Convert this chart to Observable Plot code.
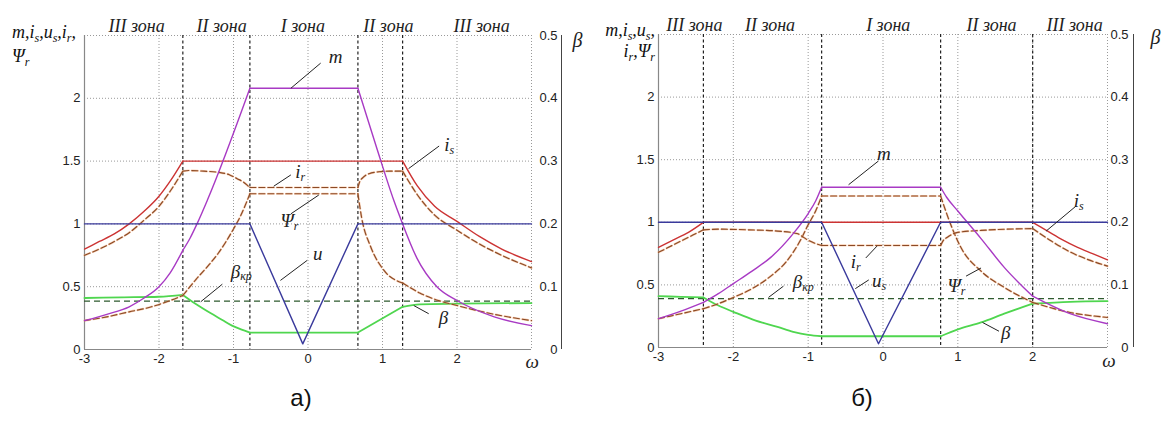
<!DOCTYPE html>
<html><head><meta charset="utf-8">
<script src="https://cdn.jsdelivr.net/npm/d3@7"></script>
<script src="https://cdn.jsdelivr.net/npm/@observablehq/plot@0.6"></script>
<style>
body{margin:0;background:#fff;}
#wrap{position:relative;width:1162px;height:432px;overflow:hidden;}
.panel{position:absolute;top:0;}
.lbl{position:absolute;font-style:italic;font-size:18px;line-height:18px;font-family:"Liberation Serif",serif;color:#111;white-space:nowrap;}
.lbl sub{font-size:12px;vertical-align:-4px;line-height:0;}
.cap{position:absolute;font-family:"Liberation Sans",Arial,sans-serif;font-size:24px;line-height:28px;color:#111;width:40px;text-align:center;}
</style></head>
<body><div id="wrap">
<div id="pa" class="panel" style="left:0"></div>
<div id="pb" class="panel" style="left:581px"></div>
<div class="lbl" style="left:12px;top:23px">m,i<sub>s</sub>,u<sub>s</sub>,i<sub>r</sub>,</div>
<div class="lbl" style="left:12px;top:47px">Ψ<sub>r</sub></div>
<div class="lbl" style="right:507px;top:21px;text-align:right">m,i<sub>s</sub>,u<sub>s</sub>,</div>
<div class="lbl" style="right:507px;top:42px;text-align:right">i<sub>r</sub>,Ψ<sub>r</sub></div>
<div class="cap" style="left:281px;top:384px">а)</div>
<div class="cap" style="left:842px;top:384px">б)</div>
</div>
<script>
// ---- ticks & categories ----
const omegaTicks = [-3, -2, -1, 0, 1, 2];
const gridOmega = [-2, -1, 0, 1, 2, 3];
const leftTicks = [0, 0.5, 1, 1.5, 2];
const gridLeft = [0.5, 1, 1.5, 2, 2.5];
const betaTicks = [0, 0.1, 0.2, 0.3, 0.4, 0.5];
const zoneNames = ["III зона", "II зона", "I зона", "II зона", "III зона"];

// ---- panel а ----
const zoneCentersA = [-2.30, -1.16, -0.07, 1.08, 2.33];
const zoneBoundsA = [-1.68, -0.78, 0.67, 1.27];
const isA = [[-3,0.80],[-2.8,0.86],[-2.6,0.92],[-2.4,1.00],[-2.2,1.10],[-2.0,1.22],[-1.85,1.34],[-1.68,1.50],[1.27,1.50],[1.47,1.30],[1.7,1.14],[2.0,1.02],[2.3,0.90],[2.6,0.80],[3.0,0.70]];
const irA = [[-3,0.75],[-2.8,0.80],[-2.6,0.86],[-2.4,0.93],[-2.2,1.03],[-2.0,1.14],[-1.85,1.26],[-1.68,1.42],[-1.6,1.425],[-1.4,1.42],[-1.2,1.41],[-1.05,1.39],[-0.95,1.36],[-0.86,1.33],[-0.8,1.30],[-0.78,1.29],[0.67,1.29],[0.69,1.33],[0.74,1.37],[0.82,1.40],[0.95,1.415],[1.1,1.42],[1.27,1.42],[1.47,1.23],[1.7,1.07],[2.0,0.95],[2.3,0.84],[2.6,0.75],[3.0,0.65]];
const psiA = [[-3,0.23],[-2.7,0.26],[-2.4,0.30],[-2.1,0.34],[-1.85,0.39],[-1.68,0.43],[-1.5,0.56],[-1.35,0.66],[-1.2,0.77],[-1.0,0.96],[-0.9,1.07],[-0.78,1.24],[0.67,1.24],[0.72,1.05],[0.84,0.82],[1.02,0.63],[1.27,0.53],[1.5,0.45],[1.75,0.39],[2.0,0.35],[2.5,0.28],[3.0,0.23]];
const mA = [[-3,0.23],[-2.7,0.28],[-2.4,0.34],[-2.2,0.41],[-2.0,0.50],[-1.85,0.61],[-1.68,0.79],[-1.58,0.89],[-1.49,1.0],[-1.35,1.19],[-0.78,2.08],[0.67,2.08],[0.93,1.59],[1.15,1.19],[1.27,1.0],[1.46,0.73],[1.73,0.50],[2.0,0.39],[2.5,0.26],[3.0,0.19]];
const uA = [[-3,1],[-0.78,1],[-0.07,0.045],[0.67,1],[3,1]];
const betaA = [[-3,0.082],[-2.5,0.083],[-2.0,0.084],[-1.68,0.087],[-1.5,0.072],[-1.31,0.058],[-1.15,0.047],[-1.02,0.038],[-0.9,0.032],[-0.78,0.027],[0.67,0.027],[1.27,0.068],[1.5,0.072],[2.0,0.073],[3.0,0.074]];
const betaKrA = 0.077;

// ---- panel б ----
const zoneCentersB = [-2.52, -1.51, 0.07, 1.45, 2.56];
const zoneBoundsB = [-2.4, -0.82, 0.77, 2.0];
const isB = [[-3,0.80],[-2.8,0.86],[-2.6,0.92],[-2.4,1.0],[2.0,1.0],[2.2,0.93],[2.4,0.86],[2.6,0.80],[2.8,0.75],[3.0,0.70]];
const irB = [[-3,0.76],[-2.8,0.82],[-2.6,0.88],[-2.4,0.94],[-2.2,0.945],[-1.8,0.94],[-1.41,0.93],[-1.15,0.91],[-1.01,0.86],[-0.9,0.83],[-0.82,0.815],[0.77,0.815],[0.8,0.85],[0.86,0.88],[1.0,0.92],[1.31,0.935],[2.0,0.95],[2.25,0.85],[2.51,0.76],[2.75,0.70],[3.0,0.65]];
const psiB = [[-3,0.23],[-2.7,0.27],[-2.4,0.31],[-2.2,0.35],[-2.0,0.40],[-1.75,0.47],[-1.5,0.57],[-1.3,0.68],[-1.1,0.86],[-1.0,0.98],[-0.9,1.09],[-0.82,1.21],[0.77,1.21],[0.9,0.99],[1.04,0.80],[1.31,0.61],[1.62,0.48],[2.0,0.36],[2.5,0.28],[3.0,0.24]];
const mB = [[-3,0.23],[-2.7,0.29],[-2.4,0.36],[-2.2,0.43],[-2.0,0.51],[-1.75,0.61],[-1.5,0.72],[-1.2,0.91],[-1.0,1.07],[-0.9,1.17],[-0.82,1.28],[0.77,1.28],[0.85,1.20],[1.0,1.09],[1.31,0.87],[1.62,0.64],[2.0,0.41],[2.5,0.27],[3.0,0.19]];
const uB = [[-3,1],[-0.82,1],[-0.06,0.03],[0.77,1],[3,1]];
const betaB = [[-3,0.082],[-2.7,0.081],[-2.4,0.080],[-2.2,0.067],[-2.0,0.057],[-1.7,0.043],[-1.41,0.033],[-1.2,0.025],[-1.0,0.020],[-0.82,0.018],[0.77,0.018],[1.0,0.029],[1.31,0.040],[1.62,0.054],[2.0,0.070],[2.5,0.073],[3.0,0.074]];
const betaKrB = 0.078;

// ---- annotations (in data units) ----
const labelsA = [
  {x:0.37, y:2.33, t:"m"}, {x:1.90, y:1.63, t:"i", s:"s"}, {x:-0.10, y:1.41, t:"i", s:"r"},
  {x:-0.19, y:1.02, t:"Ψ", s:"r"}, {x:0.13, y:0.76, t:"u"}, {x:-0.91, y:0.62, t:"β", s:"кр"},
  {x:1.82, y:0.25, t:"β"}, {x:3.01, y:-0.10, t:"ω"}
];
const leadersA = [
  [-0.23,2.08,0.17,2.28],[1.35,1.44,1.76,1.62],[-0.46,1.30,-0.23,1.39],[-0.23,1.08,0.145,1.23],
  [-0.37,0.55,-0.01,0.71],[-1.44,0.38,-1.15,0.52],[1.42,0.35,1.62,0.285]
];
const labelsB = [
  {x:0.01, y:1.55, t:"m"}, {x:2.62, y:1.17, t:"i", s:"s"}, {x:-0.36, y:0.68, t:"i", s:"r"},
  {x:-0.02, y:0.53, t:"u", s:"s"}, {x:-1.08, y:0.52, t:"β", s:"кр"}, {x:1.04, y:0.49, t:"Ψ", s:"r"},
  {x:1.64, y:0.12, t:"β"}, {x:3.02, y:-0.11, t:"ω"}
];
const leadersB = [
  [-0.46,1.30,-0.06,1.49],[2.18,0.93,2.58,1.13],[-0.08,0.81,-0.23,0.715],[-0.37,0.47,-0.19,0.54],
  [-1.53,0.40,-1.33,0.49],[1.11,0.57,1.31,0.635],[1.33,0.20,1.55,0.13]
];

const serif = "Liberation Serif, Times New Roman, serif";

// split a series at points lying on zone boundaries so each piece is smoothed separately
function pieces(data, bounds, k = 1) {
  const rows = [];
  let seg = 0;
  data.forEach(([w, v]) => {
    rows.push({w, v: v * k, seg});
    if (bounds.some(b => Math.abs(b - w) < 1e-9)) {
      seg += 1;
      rows.push({w, v: v * k, seg});
    }
  });
  return rows;
}

function smooth(data, bounds, opts, k = 1) {
  return Plot.line(pieces(data, bounds, k), {x: "w", y: "v", z: "seg", curve: "monotone-x", ...opts});
}

function brown(data, bounds) {
  return [
    smooth(data, bounds, {stroke: "#f2a774", strokeOpacity: 0.55, strokeWidth: 2.2, strokeDasharray: "6,3"}),
    smooth(data, bounds, {stroke: "#8b4a26", strokeWidth: 1.15, strokeDasharray: "6,3"})
  ];
}

function panel(c) {
  const bd = c.bounds;
  return Plot.plot({
    width: 581, height: 432,
    marginLeft: c.ml, marginRight: c.mr, marginTop: c.mt, marginBottom: c.mb,
    x: {domain: [-3, 3]}, y: {domain: [0, 2.5]},
    style: {fontFamily: "Liberation Sans, Arial, sans-serif", fontSize: "13px", color: "#222", background: "transparent", overflow: "visible"},
    marks: [
      Plot.ruleX(gridOmega, {stroke: "#999", strokeDasharray: "1,2"}),
      Plot.ruleY(gridLeft, {stroke: "#999", strokeDasharray: "1,2"}),
      Plot.ruleX([-3], {stroke: "#888", strokeWidth: 1.2}),
      Plot.ruleY([0], {stroke: "#888", strokeWidth: 1.2}),
      Plot.ruleX([3], {dx: c.axOff, y1: 0, y2: 2.5, stroke: "#444"}),
      Plot.ruleX(bd, {stroke: "#222", strokeDasharray: "3,2.5", strokeWidth: 1.2}),
      Plot.ruleY([c.bkr], {y: d => d * 5, stroke: "#2e5a2e", strokeDasharray: "6,4", strokeWidth: 1.3}),
      smooth(c.beta, bd, {stroke: "#4fd64f", strokeWidth: 1.8}, 5),
      ...brown(c.psi, bd),
      ...brown(c.ir, bd),
      smooth(c.is, bd, {stroke: "#cc3333", strokeWidth: 1.4}),
      smooth(c.m, bd, {stroke: "#a83ac4", strokeWidth: 1.4}),
      Plot.line(c.u, {x: d => d[0], y: d => d[1], stroke: "#3a3a9c", strokeWidth: 1.4}),
      Plot.axisX(omegaTicks, {tickSize: 0, tickPadding: 4, tickFormat: d => String(d), label: null}),
      Plot.axisY(leftTicks, {tickSize: 0, tickPadding: 4, tickFormat: d => String(d), label: null}),
      Plot.text(betaTicks, {x: 3, y: d => d * 5, text: d => String(d), dx: c.labOff, textAnchor: "end"}),
      Plot.text(["β"], {x: 3, y: 2.5, dx: c.betaDx, dy: c.betaDy, fontFamily: serif, fontStyle: "italic", fontSize: 20}),
      Plot.text(zoneNames, {x: c.centers, y: 2.5, dy: -4, lineAnchor: "bottom", fontFamily: serif, fontStyle: "italic", fontSize: 18}),
      Plot.link(c.leaders, {x1: d => d[0], y1: d => d[1], x2: d => d[2], y2: d => d[3], stroke: "#222", strokeWidth: 1}),
      Plot.text(c.labels.filter(d => !d.s), {x: "x", y: "y", text: "t", fontFamily: serif, fontStyle: "italic", fontSize: 19}),
      Plot.text(c.labels.filter(d => d.s), {x: "x", y: "y", text: "t", textAnchor: "end", fontFamily: serif, fontStyle: "italic", fontSize: 19}),
      Plot.text(c.labels.filter(d => d.s), {x: "x", y: "y", text: "s", textAnchor: "start", dy: 5, fontFamily: serif, fontStyle: "italic", fontSize: 12})
    ]
  });
}

document.getElementById("pa").append(panel({
  ml: 84, mr: 50, mt: 35, mb: 83, axOff: 30, labOff: 26, betaDx: 46, betaDy: 5,
  bounds: zoneBoundsA, centers: zoneCentersA, bkr: betaKrA, beta: betaA, psi: psiA, ir: irA, is: isA, m: mA, u: uA,
  labels: labelsA, leaders: leadersA
}));
document.getElementById("pb").append(panel({
  ml: 77, mr: 55, mt: 34, mb: 85, axOff: 26, labOff: 21, betaDx: 48, betaDy: 3,
  bounds: zoneBoundsB, centers: zoneCentersB, bkr: betaKrB, beta: betaB, psi: psiB, ir: irB, is: isB, m: mB, u: uB,
  labels: labelsB, leaders: leadersB
}));
</script>
</body></html>
